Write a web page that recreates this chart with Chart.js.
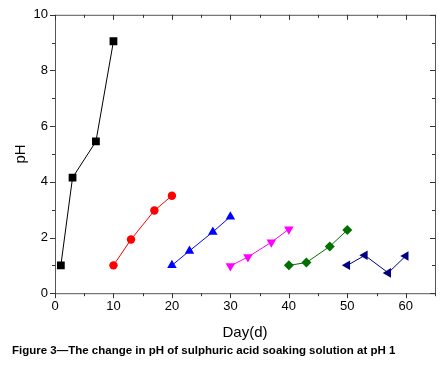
<!DOCTYPE html>
<html><head><meta charset="utf-8">
<script src="https://cdn.jsdelivr.net/npm/chart.js@4/dist/chart.umd.min.js"></script>
<style>html,body{margin:0;padding:0;background:#fff;}#wrap{width:445px;height:366px;}</style>
</head><body><div id="wrap"><canvas id="c" width="445" height="366"></canvas></div>
<script>
const xTicks = [0, 10, 20, 30, 40, 50, 60];
const yTicks = [0, 2, 4, 6, 8, 10];
const seriesNames = ['S1', 'S2', 'S3', 'S4', 'S5', 'S6'];
const daysS1 = [1, 3, 7, 10];
const phS1 = [1.0, 4.15, 5.45, 9.05];
const daysS2 = [10, 13, 17, 20];
const phS2 = [1.0, 1.93, 2.97, 3.5];
const daysS3 = [20, 23, 27, 30];
const phS3 = [1.0, 1.52, 2.2, 2.75];
const daysS4 = [30, 33, 37, 40];
const phS4 = [0.98, 1.3, 1.83, 2.3];
const daysS5 = [40, 43, 47, 50];
const phS5 = [1.0, 1.1, 1.68, 2.27];
const daysS6 = [50, 53, 57, 60];
const phS6 = [1.0, 1.36, 0.73, 1.34];
const caption = 'Figure 3\u2014The change in pH of sulphuric acid soaking solution at pH 1';

const pts = (xs, ys) => xs.map((x, i) => ({x, y: ys[i]}));
function ds(name, xs, ys, color, style, radius, rot) {
  return {label: name, data: pts(xs, ys), borderColor: color, backgroundColor: color,
    borderWidth: 1, pointStyle: style, pointRadius: radius, pointHoverRadius: radius,
    pointRotation: rot || 0, pointBorderWidth: 0, showLine: true, tension: 0};
}

const frame = {
  id: 'frame',
  afterDraw(chart) {
    const {ctx, chartArea: a, scales: {x, y}} = chart;
    ctx.save();
    ctx.strokeStyle = '#555';
    ctx.lineWidth = 1;
    ctx.strokeRect(a.left + 0.5, a.top + 0.5, a.right - a.left, a.bottom - a.top);
    ctx.strokeStyle = '#333';
    for (let v = 0; v <= 65; v += 5) {
      const px = Math.round(x.getPixelForValue(v)) + 0.5;
      const L = v % 10 === 0 ? 5 : 3;
      ctx.beginPath();
      ctx.moveTo(px, a.bottom); ctx.lineTo(px, a.bottom + L);
      ctx.moveTo(px, a.top); ctx.lineTo(px, a.top + L);
      ctx.stroke();
    }
    for (let v = 0; v <= 10; v += 1) {
      const py = Math.round(y.getPixelForValue(v)) + 0.5;
      const L = v % 2 === 0 ? 5 : 3;
      ctx.beginPath();
      ctx.moveTo(a.left, py); ctx.lineTo(a.left - L, py);
      ctx.moveTo(a.right, py); ctx.lineTo(a.right - L, py);
      ctx.stroke();
    }
    ctx.restore();
  }
};

const FONT = 'Liberation Sans, Arial, sans-serif';
new Chart(document.getElementById('c'), {
  type: 'scatter',
  data: {datasets: [
    ds(seriesNames[0], daysS1, phS1, '#000000', 'rect', 5.5),
    ds(seriesNames[1], daysS2, phS2, '#ff0000', 'circle', 4.2),
    ds(seriesNames[2], daysS3, phS3, '#0000ff', 'triangle', 5.5),
    ds(seriesNames[3], daysS4, phS4, '#ff00ff', 'triangle', 5.5, 180),
    ds(seriesNames[4], daysS5, phS5, '#007000', 'rectRot', 5),
    ds(seriesNames[5], daysS6, phS6, '#000080', 'triangle', 5.5, 270)
  ]},
  options: {
    responsive: false, animation: false, devicePixelRatio: 1,
    layout: {padding: {top: 13, right: 10, left: 12, bottom: 8}},
    plugins: {
      legend: {display: false}, tooltip: {enabled: false},
      title: {display: true, text: caption, position: 'bottom', align: 'start',
        color: '#000', font: {family: FONT, size: 11.5, weight: 'bold'},
        padding: {top: 0, bottom: 0}}
    },
    scales: {
      x: {type: 'linear', min: 0, max: 65,
        afterBuildTicks: s => { s.ticks = xTicks.map(v => ({value: v})); },
        afterFit: s => { s.height = 51; },
        grid: {display: false, drawTicks: false}, border: {display: false},
        ticks: {color: '#000', padding: 5, maxRotation: 0, font: {family: FONT, size: 13}},
        title: {display: true, text: 'Day(d)', color: '#000', padding: {top: 10, bottom: 2},
          font: {family: FONT, size: 15}}},
      y: {type: 'linear', min: 0, max: 10,
        afterBuildTicks: s => { s.ticks = yTicks.map(v => ({value: v})); },
        afterFit: s => { s.width = 43; },
        grid: {display: false, drawTicks: false}, border: {display: false},
        ticks: {color: '#000', padding: 7, font: {family: FONT, size: 13}},
        title: {display: true, text: 'pH', color: '#000', padding: {top: 0, bottom: 3},
          font: {family: FONT, size: 15}}}
    }
  },
  plugins: [frame]
});
</script></body></html>
